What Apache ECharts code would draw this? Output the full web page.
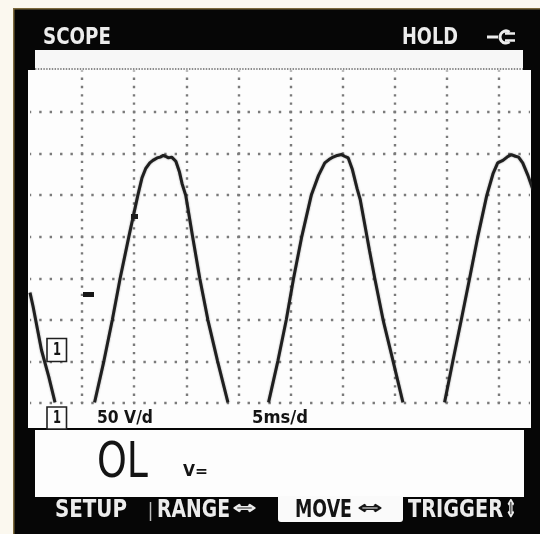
<!DOCTYPE html>
<html><head><meta charset="utf-8">
<script src="https://cdn.jsdelivr.net/npm/echarts@6/dist/echarts.min.js"></script>
<style>html,body{margin:0;padding:0;background:#fbf8ef;}#c{width:540px;height:534px;}</style>
</head><body><div id="c"></div>
<script>
// ---- Scope settings ----
const voltsPerDiv = 50;      // "50 V/d"
const msPerDiv = 5;          // "5ms/d"
const vertDivs = 8;          // graticule rows
const groundDiv = 1.275;     // ground marker "1" above bottom line, in divisions
const timeSpanMs = 48;       // visible time span (9.6 div)

// ---- Trace samples [time ms, volts] ----
const tailSegment = [[0,69],[0.3,52],[1.1,0],[1.8,-32],[2.4,-63]];
const hump1 = [[6.2,-63],[7.1,-13],[7.9,36],[8.65,86],[9.5,137],[10.35,186],[10.75,207],
  [11.1,218],[11.5,225],[11.8,228],[12.2,231],[12.5,232],[12.8,234],[13.0,233],[13.3,231],[13.6,232],
  [14.0,227],[14.35,214],[14.6,200],[14.95,186],[15.6,137],[16.3,86],[17.08,36],[18.0,-13],[19.0,-63]];
const hump2 = [[22.9,-63],[23.8,-13],[24.6,36],[25.3,86],[26.1,137],[27.0,186],[27.7,210],
  [28.3,225],[28.7,229],[29.1,232],[29.5,234],[29.9,235],[30.2,233],[30.55,231],[30.95,217],[31.4,194],
  [31.7,181],[32.15,150],[32.6,119],[33.1,86],[33.9,36],[34.85,-13],[35.8,-63]];
const hump3 = [[39.8,-63],[40.6,-13],[41.4,36],[42.2,86],[43.0,137],[43.85,186],[44.45,212],
  [44.9,225],[45.4,228],[45.8,232],[46.2,235],[46.6,233],[46.9,232],[47.3,225],[47.8,210],[48.3,192]];

const segments = [tailSegment, hump1, hump2, hump3];

// ---- helpers ----
const mctx = document.createElement('canvas').getContext('2d');
const FAM = "'DejaVu Sans', 'Liberation Sans', sans-serif";
function fitText(str, x, top, w, capH, fill, weight) {
  const size = capH / 0.73;
  const font = weight + ' ' + size.toFixed(1) + 'px ' + FAM;
  mctx.font = font;
  const mw = mctx.measureText(str).width;
  return { type: 'text', x: x, y: top + capH / 2 + 0.07 * size, scaleX: w / mw, z: 60,
    style: { text: str, fill: fill, font: font, align: 'left', verticalAlign: 'middle' } };
}
const WHITE_TXT = '#ececec', BLACK_TXT = '#141414';

const graphics = [
  // page / bezel
  { type: 'rect', z: -20, shape: { x: 13, y: 8, width: 527, height: 526 }, style: { fill: '#060606' } },
  { type: 'rect', z: -19, shape: { x: 13, y: 8, width: 527, height: 1.5 }, style: { fill: '#7d6a3c' } },
  { type: 'rect', z: -19, shape: { x: 13, y: 8, width: 1.5, height: 526 }, style: { fill: '#7d6a3c' } },
  // screen panels
  { type: 'rect', z: -18, shape: { x: 35, y: 50, width: 488, height: 21 }, style: { fill: '#f7f7f7' } },
  { type: 'rect', z: -18, shape: { x: 28, y: 70, width: 503, height: 358 }, style: { fill: '#fdfdfd' } },
  { type: 'rect', z: -18, shape: { x: 35, y: 430, width: 489, height: 67 }, style: { fill: '#fdfdfd' } },
  { type: 'rect', z: -18, shape: { x: 278, y: 496, width: 125, height: 26, r: [0, 0, 3, 3] }, style: { fill: '#fafafa' } },
  // dense top border of graticule
  { type: 'line', z: 10, shape: { x1: 35, y1: 69, x2: 523, y2: 69 }, style: { stroke: '#8a8a8a', lineWidth: 1.8, lineDash: [1.4, 1.4] } },
  // header
  fitText('SCOPE', 43, 28, 68, 17, WHITE_TXT, 'bold'),
  fitText('HOLD', 402, 28, 56, 17, WHITE_TXT, 'bold'),
  // plug icon
  { type: 'line', z: 60, shape: { x1: 487, y1: 37, x2: 498, y2: 37 }, style: { stroke: WHITE_TXT, lineWidth: 3 } },
  { type: 'arc', z: 60, shape: { cx: 506, cy: 37, r: 6, startAngle: Math.PI * 0.3, endAngle: Math.PI * 1.7, clockwise: true }, style: { stroke: WHITE_TXT, lineWidth: 3, fill: 'none' } },
  { type: 'line', z: 60, shape: { x1: 505, y1: 33.5, x2: 515, y2: 33.5 }, style: { stroke: WHITE_TXT, lineWidth: 2.5 } },
  { type: 'line', z: 60, shape: { x1: 505, y1: 40.5, x2: 515, y2: 40.5 }, style: { stroke: WHITE_TXT, lineWidth: 2.5 } },
  // channel markers
  { type: 'rect', z: 60, shape: { x: 47, y: 338.5, width: 19.5, height: 23 }, style: { fill: '#fdfdfd', stroke: '#202020', lineWidth: 1.6 } },
  fitText('1', 53, 343, 8, 13, BLACK_TXT, 'bold'),
  { type: 'rect', z: 60, shape: { x: 47, y: 407, width: 19.5, height: 22 }, style: { fill: '#fdfdfd', stroke: '#202020', lineWidth: 1.6 } },
  fitText('1', 53, 411, 8, 13, BLACK_TXT, 'bold'),
  // trigger level marker and trigger point
  { type: 'rect', z: 60, shape: { x: 83, y: 292, width: 11, height: 5 }, style: { fill: '#161616' } },
  { type: 'rect', z: 60, shape: { x: 131, y: 214, width: 7, height: 5 }, style: { fill: '#1c1c1c' } },
  // scale labels
  fitText(voltsPerDiv + ' V/d', 97, 411, 56, 13, BLACK_TXT, 'bold'),
  fitText(msPerDiv + 'ms/d', 252, 411, 56, 13, BLACK_TXT, 'bold'),
  // reading
  fitText('OL', 97, 443, 51, 36, BLACK_TXT, 'normal'),
  fitText('V=', 183, 465, 25, 12, BLACK_TXT, 'bold'),
  // soft keys
  fitText('SETUP', 55, 500, 72, 18, WHITE_TXT, 'bold'),
  { type: 'line', z: 60, shape: { x1: 150.5, y1: 502, x2: 150.5, y2: 521 }, style: { stroke: '#bbbbbb', lineWidth: 1.5 } },
  fitText('RANGE', 157, 500, 73, 18, WHITE_TXT, 'bold'),
  fitText('\u21D4', 232, 501, 25, 14, WHITE_TXT, 'bold'),
  fitText('MOVE', 295, 500, 57, 18, BLACK_TXT, 'bold'),
  fitText('\u21D4', 357, 501, 26, 14, BLACK_TXT, 'bold'),
  fitText('TRIGGER', 408, 500, 95, 18, WHITE_TXT, 'bold'),
  fitText('\u21D5', 505, 500, 12, 18, WHITE_TXT, 'bold')
];

const GRID = { left: 30, top: 70.4, width: 500, height: 332.6 };
const pxPerDivX = GRID.width / (timeSpanMs / msPerDiv);
const pxPerDivY = GRID.height / vertDivs;

const chart = echarts.init(document.getElementById('c'), null, { renderer: 'canvas' });
chart.setOption({
  animation: false,
  backgroundColor: 'transparent',
  grid: Object.assign({ containLabel: false }, GRID),
  xAxis: [{
    type: 'value', min: 0, max: timeSpanMs, interval: msPerDiv,
    axisLine: { show: false }, axisTick: { show: false }, axisLabel: { show: false },
    splitLine: { show: true, showMinLine: false, showMaxLine: false,
      lineStyle: { color: '#7a7a7a', width: 2.4, type: [2.4, pxPerDivY / 5 - 2.4], dashOffset: 1.2 } }
  }],
  yAxis: [{
    type: 'value', min: 0, max: vertDivs, interval: 1,
    axisLine: { show: false }, axisTick: { show: false }, axisLabel: { show: false },
    splitLine: { show: true, showMinLine: true, showMaxLine: false,
      lineStyle: { color: '#7a7a7a', width: 2.4, type: [2.4, pxPerDivX / 5 - 2.4], dashOffset: 1.2 } }
  }, {
    type: 'value', show: false,
    min: -groundDiv * voltsPerDiv, max: (vertDivs - groundDiv) * voltsPerDiv,
    splitLine: { show: false }
  }],
  graphic: { elements: graphics },
  series: segments.map(function (seg) {
    return {
      type: 'line', xAxisIndex: 0, yAxisIndex: 1, data: seg, showSymbol: false, clip: true,
      lineStyle: { color: '#1f1f1f', width: 3, shadowBlur: 2, shadowColor: 'rgba(0,0,0,0.4)' },
      z: 5
    };
  })
});
</script></body></html>
